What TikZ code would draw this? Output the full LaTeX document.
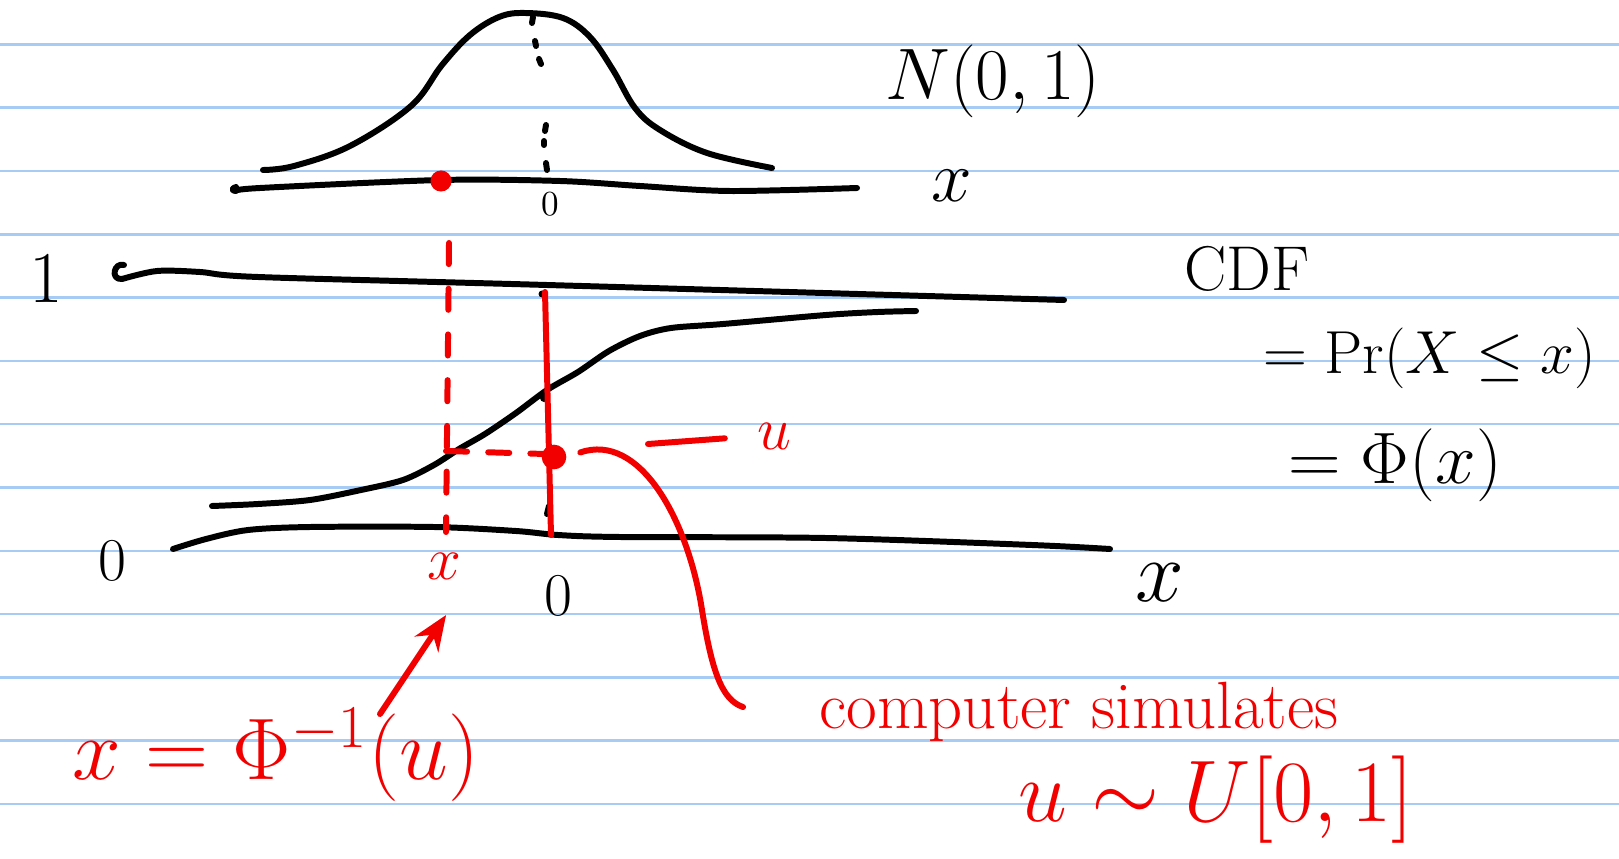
\documentclass[tikz,border=0pt]{standalone}
\usepackage{amsmath}
\usetikzlibrary{arrows.meta}
\definecolor{ruleblue}{RGB}{166,204,245}
\definecolor{pen}{RGB}{242,0,0}
\begin{document}
\begin{tikzpicture}[x=0.01cm,y=-0.01cm,
  ink/.style={line width=1.7pt,line cap=round,line join=round},
  redink/.style={ink,draw=pen},
  lbl/.style={inner sep=0pt,font=\fontsize{20}{24}\selectfont},
  rlbl/.style={lbl,text=pen},
  dotred/.style={circle,fill=pen,inner sep=0pt}]
\useasboundingbox (0,0) rectangle (1619,858);
\fill[white] (0,0) rectangle (1619,858);
% notebook ruling
\foreach \k in {0,...,12}
  \draw[ruleblue,line width=0.7pt] (0,{44.4+63.3*\k}) -- (1619,{44.4+63.3*\k});
% bell curve
\draw[ink] plot[smooth,tension=0.6] coordinates {(263,170) (294,166) (350,146) (411,106) (442,65) (470,35) (499,17) (525,13) (563,18) (590,37) (613,70) (635,108) (660,130) (707,153) (772,168)};
% dotted centre line
\foreach \xa/\ya/\xb/\yb in {533/17/532/23, 535/41/536/46, 539/59/541/64, 546/125/545/131, 544/141/544/145, 546/163/547/170}
  \draw[ink] (\xa,\ya) -- (\xb,\yb);
% top axis
\draw[ink] (236,187) .. controls (232,188) and (231,191) .. (236,191)
  plot[smooth,tension=0.5] coordinates {(236,191) (260,188) (441,180) (560,181) (640,186) (730,191) (857,188)};
% level 1 line
\draw[ink] (124,265) .. controls (114,262) and (110,280) .. (122,279)
  plot[smooth,tension=0.5] coordinates {(122,279) (157,271) (200,272) (258,277) (547,285) (1064,300)};
% CDF curve
\draw[ink] plot[smooth,tension=0.5] coordinates {(212,506) (258,504) (310,500) (361,490) (403,480) (434,465) (459,449) (485,434) (516,413) (547,390) (578,372) (609,351) (640,336) (671,328) (723,324) (826,315) (878,312) (916,311)};
% bottom axis
\draw[ink] plot[smooth,tension=0.5] coordinates {(173,549) (206,539) (248,530) (310,527) (434,527) (516,531) (558,535) (620,537) (826,538) (1032,545) (1110,549)};
% small black marks
\fill (542,294) circle (3.5);
\fill (544,398) circle (4);
\draw[ink] (549,506) -- (547,514);
% labels (black)
\node[lbl] (N) at (993,81) {$N(0,1)$};
\node[lbl,font=\fontsize{22}{26}\selectfont] (xtop) at (952,186) {$x$};
\node[lbl,font=\fontsize{10}{12}\selectfont] (ztop) at (550,204) {$0$};
\node[lbl] (one) at (46,279) {$1$};
\node[lbl,font=\fontsize{18}{22}\selectfont] (zleft) at (112,561) {$0$};
\node[lbl,font=\fontsize{17}{20}\selectfont] (zbot) at (558,596) {$0$};
\node[lbl,font=\fontsize{24}{28}\selectfont] (xbot) at (1160,583) {$x$};
\node[lbl,font=\fontsize{18}{22}\selectfont] (cdf) at (1247,269) {CDF};
\node[lbl,font=\fontsize{17}{21}\selectfont] (pr) at (1430,358) {$=\Pr(X\le x)$};
\node[lbl] (phi) at (1395,465) {$=\Phi(x)$};
% red marks
\node[dotred,minimum size=6pt] (dotx) at (441,181) {};
\node[dotred,minimum size=7pt] (dotu) at (554,457) {};
\draw[redink,dash pattern=on 6pt off 7pt] (449,243) -- (446,532);
\draw[redink,dash pattern=on 6pt off 6pt] (446,451) -- (545,454);
\draw[redink] (545,292) -- (551,535);
\node[rlbl,font=\fontsize{16}{20}\selectfont] (xred) at (444,566) {$x$};
\node[rlbl,font=\fontsize{16}{20}\selectfont] (ured) at (774,436) {$u$};
\coordinate (udash) at (648,444);
\draw[redink,shorten >=9pt] (udash) -- (ured.west);
\node[rlbl,font=\fontsize{26}{30}\selectfont] (inv) at (276,755) {$x=\Phi^{-1}(u)$};
\node[rlbl,font=\fontsize{19}{23}\selectfont] (comp) at (1079,712) {computer simulates};
\node[rlbl,font=\fontsize{24}{28}\selectfont] (unif) at (1216,800) {$u\sim U[0,1]$};
\coordinate (arrtail) at (380,714);
\draw[redink,-{Stealth[length=10pt,width=8pt]}] (arrtail) -- ([xshift=0.6pt,yshift=-10pt]xred.south);
\coordinate (cend) at (743,707);
\draw[redink,shorten <=4pt] (dotu.east) .. controls (640,432) and (688,520) .. (702,610) .. controls (712,672) and (722,700) .. (cend);
\end{tikzpicture}
\end{document}
